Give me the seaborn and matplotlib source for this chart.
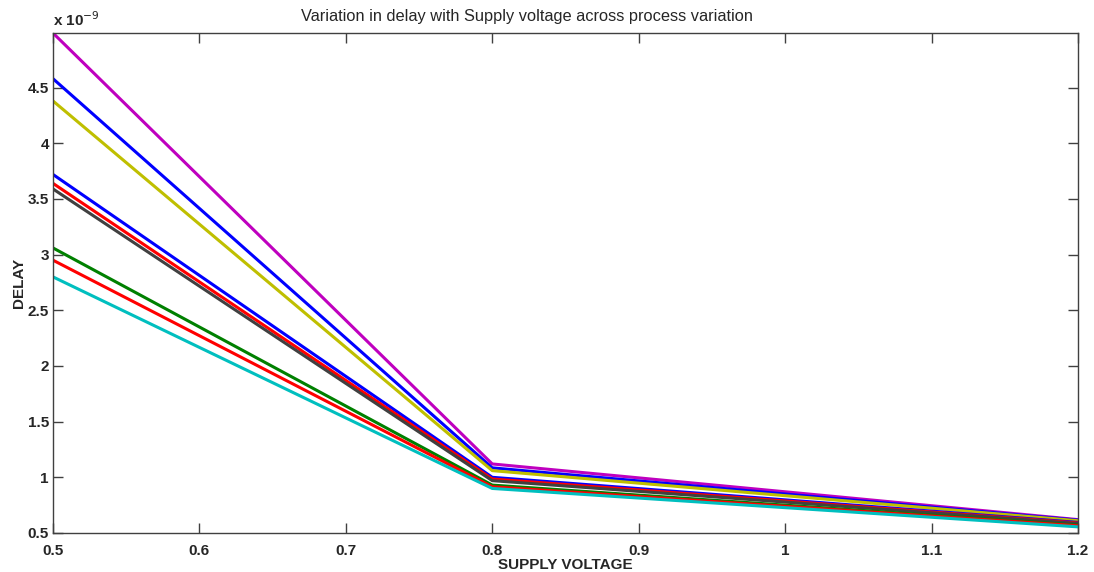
import numpy as np
import pandas as pd
import matplotlib
matplotlib.use("Agg")
import matplotlib.pyplot as plt
import seaborn as sns
from matplotlib.ticker import FuncFormatter, MultipleLocator

# supply voltage points
voltage = [0.5, 0.8, 1.2]

# delay (x 1e-9 s) for each process corner
delay_magenta = [4.99, 1.12, 0.62]
delay_blue1 = [4.58, 1.085, 0.615]
delay_yellow = [4.38, 1.06, 0.61]
delay_blue2 = [3.72, 1.00, 0.595]
delay_red1 = [3.64, 0.985, 0.59]
delay_grey = [3.59, 0.97, 0.585]
delay_green = [3.06, 0.93, 0.57]
delay_red2 = [2.95, 0.915, 0.565]
delay_cyan = [2.80, 0.90, 0.555]

series = [
    (delay_magenta, (0.75, 0, 0.75)),
    (delay_blue1, (0, 0, 1)),
    (delay_yellow, (0.75, 0.75, 0)),
    (delay_blue2, (0, 0, 1)),
    (delay_red1, (1, 0, 0)),
    (delay_grey, (0.25, 0.25, 0.25)),
    (delay_green, (0, 0.5, 0)),
    (delay_red2, (1, 0, 0)),
    (delay_cyan, (0, 0.75, 0.75)),
]

sns.set_style("ticks")
plt.rcParams['font.family'] = ['Liberation Sans', 'DejaVu Sans']

fig = plt.figure(figsize=(10.94, 5.72), dpi=100)
ax = fig.add_axes([0.0484, 0.0682, 0.937, 0.8741])

for vals, col in series:
    sns.lineplot(x=voltage, y=vals, color=col, linewidth=2.2, ax=ax)

ax.set_xlim(0.5, 1.2)
ax.set_ylim(0.5, 4.99)
ax.xaxis.set_major_locator(MultipleLocator(0.1))
ax.set_yticks(np.arange(0.5, 4.6, 0.5))
fmt = FuncFormatter(lambda v, p: f"{v:g}")
ax.xaxis.set_major_formatter(fmt)
ax.yaxis.set_major_formatter(fmt)

ax.tick_params(direction='in', length=7, width=1, top=True, right=True,
               labelsize=11, color='#404040', pad=3)
ax.tick_params(axis='x', pad=8)
for lab in ax.get_xticklabels() + ax.get_yticklabels():
    lab.set_fontweight('bold')
for sp in ax.spines.values():
    sp.set_visible(True)
    sp.set_color('#404040')
    sp.set_linewidth(1)

ax.set_title("Variation in delay with Supply voltage across process variation",
             fontsize=11.8, pad=9, x=0.4624)
ax.set_xlabel("SUPPLY VOLTAGE", fontsize=11, fontweight='bold', labelpad=0)
ax.set_ylabel("DELAY", fontsize=11, fontweight='bold', labelpad=1)
ax.text(0.0, 1.008, r"x 10$^{-9}$", transform=ax.transAxes, fontsize=11,
        fontweight='bold', ha='left', va='bottom')

fig.savefig("out.png", dpi=100)
